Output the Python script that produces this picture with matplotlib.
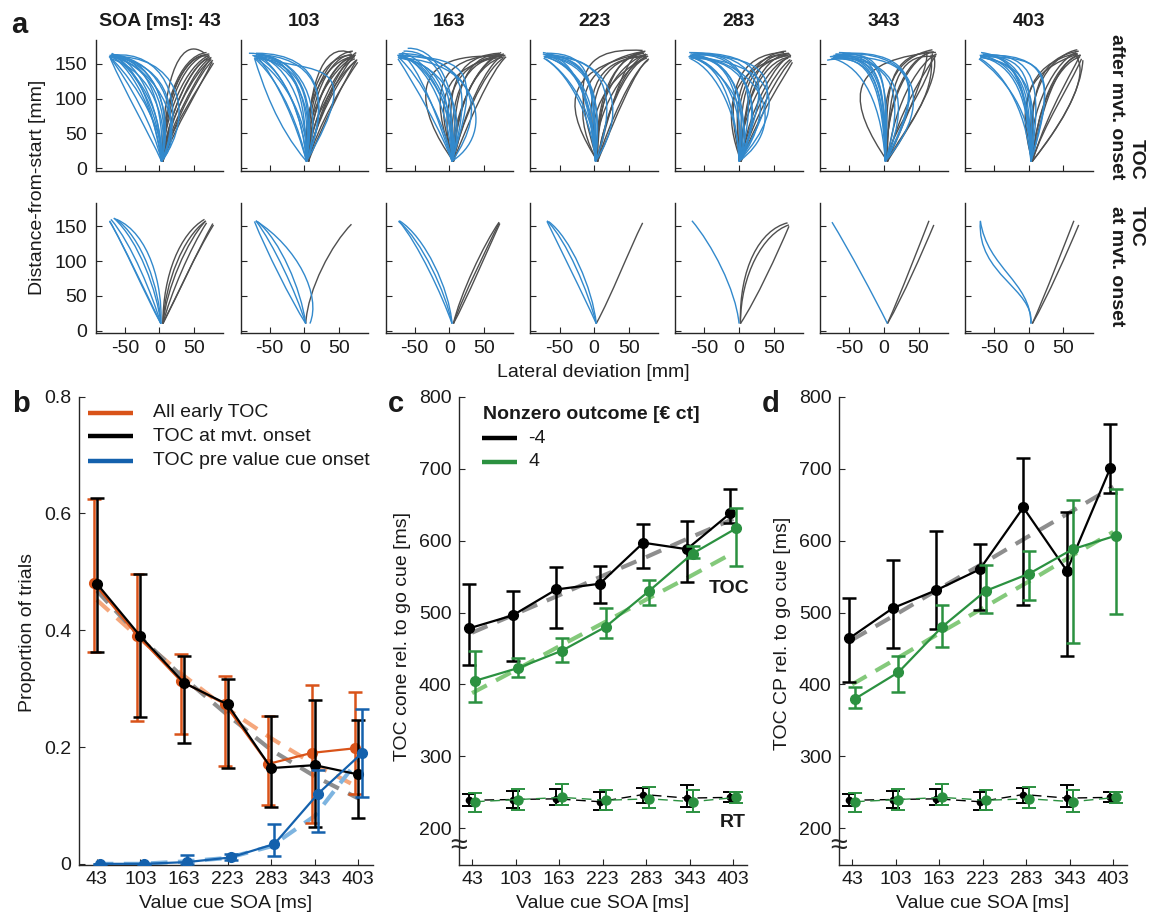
import matplotlib
matplotlib.use('Agg')
import matplotlib.pyplot as plt
from matplotlib.path import Path
from matplotlib.patches import PathPatch
import matplotlib.transforms as mtransforms

plt.rcParams['font.family'] = ['Liberation Sans', 'DejaVu Sans']
plt.rcParams['axes.linewidth'] = 1.0
plt.rcParams['axes.unicode_minus'] = False

# ---------------- data ----------------
SOA = [43, 103, 163, 223, 283, 343, 403]
SOA_LABELS = ['43', '103', '163', '223', '283', '343', '403']
PANEL_TITLES = ['SOA [ms]: 43', '103', '163', '223', '283', '343', '403']
TRAJ_START_Y = 10

# trajectories: (start_x, ctrl1_x, ctrl1_y, ctrl2_x, ctrl2_y, end_x, end_y) in mm
top_blue_43 = [(3, -8, 60, -45, 125, -72, 160), (3, -3, 70, -35, 140, -70, 162), (3, 2, 80, -25, 150, -68, 164),
               (3, 8, 85, -15, 155, -66, 163), (3, 18, 80, 0, 150, -67, 161), (3, 30, 70, 20, 150, -69, 160),
               (3, 55, 80, 25, 165, -70, 160), (3, 35, 60, 10, 160, -72, 162), (3, -15, 50, -50, 110, -71, 158),
               (3, 0, 90, -40, 145, -69, 165), (3, 15, 65, -10, 140, -70, 157), (3, 25, 95, -20, 160, -65, 163),
               (3, 5, 100, -45, 150, -72, 161), (3, -5, 55, -20, 140, -68, 163), (3, 45, 100, 0, 170, -66, 162),
               (3, 10, 45, -30, 120, -71, 159), (3, 40, 50, 5, 140, -70, 163), (3, 20, 110, -30, 155, -73, 160)]
top_gray_43 = [(5, 3, 110, 25, 195, 65, 165), (5, 5, 75, 40, 150, 72, 162), (5, 8, 60, 50, 140, 75, 156),
               (5, 12, 50, 58, 118, 78, 151), (5, 4, 95, 35, 165, 70, 163), (5, 15, 62, 55, 132, 74, 158),
               (5, 2, 85, 28, 162, 68, 166), (5, 10, 70, 45, 150, 73, 160), (5, 20, 55, 62, 122, 76, 153),
               (5, 6, 115, 45, 170, 71, 160), (5, 12, 82, 50, 155, 71, 157), (5, 22, 70, 60, 140, 77, 155),
               (5, 8, 100, 40, 160, 72, 164), (5, 16, 75, 52, 148, 75, 159)]
top_blue_103 = [(3, -40, 60, -60, 120, -72, 158), (3, -10, 60, -40, 130, -70, 162), (3, 0, 70, -30, 140, -68, 164),
                (3, 5, 80, -20, 150, -70, 163), (3, 15, 75, -5, 150, -72, 161), (3, 25, 70, 10, 155, -66, 162),
                (3, 90, 160, 20, 135, -70, 160), (3, 35, 90, 30, 165, -70, 165), (3, 10, 90, -10, 165, -80, 165),
                (3, -5, 50, -30, 120, -71, 157), (3, 20, 100, -10, 160, -69, 164), (3, 8, 60, -25, 130, -72, 159),
                (3, 45, 110, 10, 160, -67, 163), (3, -3, 85, -35, 150, -75, 162), (3, 2, 110, -15, 160, -73, 161),
                (3, 12, 100, 0, 150, -70, 158)]
top_gray_103 = [(6, 2, 110, 25, 185, 68, 165), (6, 6, 80, 40, 155, 72, 162), (6, 12, 60, 52, 135, 75, 155),
                (6, 0, 90, 30, 165, 70, 168), (6, 18, 60, 58, 125, 77, 152), (6, -10, 90, 35, 160, 73, 160),
                (6, 8, 95, 45, 160, 71, 158), (6, 15, 70, 55, 145, 74, 163), (6, 25, 60, 60, 130, 76, 156),
                (6, 5, 120, 50, 170, 70, 161), (6, 10, 75, 48, 150, 73, 157), (6, 20, 85, 55, 155, 75, 166),
                (6, -5, 70, 40, 145, 72, 160), (6, 3, 60, 45, 130, 74, 154), (6, 0, 120, 30, 160, 69, 163)]
top_blue_163 = [(4, -5, 60, -40, 130, -74, 160), (4, 0, 80, -30, 150, -72, 163), (4, 10, 70, -20, 145, -70, 161),
                (4, 20, 90, -10, 175, -60, 172), (4, 60, 90, 30, 150, -66, 158), (4, 80, 60, 20, 170, -73, 164),
                (4, -10, 50, -50, 120, -74, 157), (4, 15, 60, -15, 150, -68, 166), (4, 5, 100, -35, 160, -72, 160),
                (4, 30, 110, 30, 160, -75, 162), (4, -15, 70, -45, 150, -70, 165), (4, 25, 80, 0, 145, -71, 159),
                (4, 40, 130, 40, 160, -74, 161), (4, 10, 120, -20, 170, -66, 168), (4, 0, 110, -10, 150, -73, 158)]
top_gray_163 = [(6, -45, 80, -70, 170, 75, 160), (6, -10, 70, -35, 140, 78, 162), (6, 0, 80, -10, 160, 72, 165),
                (6, 8, 70, 30, 150, 80, 160), (6, 15, 60, 50, 140, 78, 158), (6, 5, 100, 20, 165, 74, 163),
                (6, -20, 90, 10, 160, 81, 162), (6, 20, 80, 55, 150, 76, 161), (6, 10, 90, 40, 155, 79, 164),
                (6, -5, 110, 30, 160, 72, 158), (6, 25, 60, 60, 140, 82, 160), (6, 0, 60, 35, 150, 75, 166),
                (6, -30, 110, -20, 160, 77, 163)]
top_blue_223 = [(2, 0, 90, -20, 150, -74, 164), (2, -3, 110, -30, 150, -72, 160), (2, 5, 120, -10, 160, -70, 162),
                (2, -5, 80, -40, 140, -73, 158), (2, 0, 130, -5, 165, -68, 165), (2, 10, 100, 0, 150, -71, 161),
                (2, 55, 90, 20, 160, -69, 163), (2, 40, 110, 10, 165, -72, 159), (2, -8, 120, -35, 160, -74, 166),
                (2, 3, 70, -30, 130, -70, 157), (2, 15, 130, -20, 155, -66, 160), (2, 0, 140, -10, 150, -62, 163),
                (2, 5, 100, -20, 145, -73, 161)]
top_gray_223 = [(5, -40, 80, -55, 140, 70, 165), (5, -25, 60, -40, 150, 74, 168), (5, -10, 70, -20, 160, 76, 160),
                (5, -30, 120, -30, 175, 70, 169), (5, 0, 80, 20, 160, 72, 165), (5, 10, 60, 45, 150, 76, 158),
                (5, 20, 60, 55, 140, 78, 155), (5, 5, 100, 30, 165, 73, 167), (5, -15, 100, 10, 160, 75, 162),
                (5, 15, 80, 50, 160, 77, 163), (5, 30, 70, 60, 145, 79, 157), (5, -5, 50, 25, 130, 74, 160),
                (5, 25, 100, 50, 170, 71, 166), (5, -20, 90, 35, 140, 78, 161), (5, 0, 110, 40, 150, 75, 164)]
top_blue_283 = [(0, 10, 80, -20, 150, -70, 160), (0, 20, 90, -10, 160, -68, 163), (0, 40, 80, 20, 160, -72, 158),
                (0, 60, 90, 30, 170, -66, 164), (0, 70, 60, 40, 150, -70, 162), (0, 30, 110, 10, 165, -60, 165),
                (0, 50, 130, 40, 165, -72, 166), (0, 0, 70, -30, 140, -70, 157), (0, 80, 100, 45, 150, -68, 160),
                (0, 25, 60, -10, 140, -72, 161), (0, -5, 100, -30, 150, -69, 159), (0, 45, 100, 0, 170, -64, 162),
                (0, 65, 120, 60, 160, -70, 164), (0, 15, 120, -20, 160, -73, 160), (0, 5, 100, -10, 160, -71, 162)]
top_gray_283 = [(3, -20, 70, -25, 140, 70, 162), (3, -10, 90, -5, 160, 72, 165), (3, 0, 80, 30, 155, 75, 160),
                (3, 10, 60, 50, 140, 74, 156), (3, -15, 100, 20, 165, 68, 168), (3, 5, 110, 40, 165, 73, 164),
                (3, 20, 70, 60, 140, 76, 155), (3, -5, 60, 40, 150, 71, 158), (3, 15, 90, 55, 155, 75, 162),
                (3, -25, 110, 0, 165, 65, 166), (3, 30, 80, 65, 130, 77, 152), (3, 8, 120, 30, 170, 70, 161),
                (3, 0, 110, 10, 150, 74, 163)]
top_blue_343 = [(2, 0, 130, -20, 160, -75, 157), (2, -3, 140, -30, 165, -82, 155), (2, 3, 120, -10, 160, -70, 164),
                (2, 0, 150, -30, 160, -72, 160), (2, 5, 140, 0, 170, -68, 162), (2, 60, 110, 50, 170, -60, 165),
                (2, 80, 100, 40, 175, -70, 163), (2, 30, 100, 20, 160, -74, 159), (2, 70, 140, 30, 160, -72, 161),
                (2, -5, 110, -40, 150, -76, 158), (2, 10, 130, -5, 165, -65, 166), (2, 50, 120, 0, 160, -73, 162),
                (2, 2, 145, -15, 170, -78, 160), (2, 0, 120, 0, 160, -70, 158)]
top_gray_343 = [(5, -50, 90, -60, 150, 60, 165), (5, 0, 120, 10, 165, 72, 167), (5, 20, 80, 60, 140, 75, 162),
                (5, 10, 60, 70, 120, 70, 165), (5, 40, 90, 70, 160, 60, 168), (5, 0, 100, 40, 170, 75, 166),
                (5, 30, 60, 75, 100, 68, 163), (5, 5, 140, 30, 165, 74, 160), (5, -10, 120, 20, 160, 70, 170),
                (5, 50, 80, 80, 130, 72, 162), (5, 15, 100, 55, 155, 76, 164), (5, 0, 80, 30, 150, 65, 166)]
top_blue_403 = [(3, 0, 100, -20, 150, -70, 160), (3, 5, 120, -30, 155, -69, 162), (3, -5, 90, -40, 140, -71, 158),
                (3, 10, 110, -10, 160, -67, 164), (3, 0, 130, -25, 165, -70, 161), (3, 15, 100, 0, 150, -68, 159),
                (3, 20, 120, 10, 165, -66, 163), (3, 40, 140, 30, 160, -70, 160), (3, 5, 80, -35, 130, -72, 157),
                (3, 30, 100, 45, 165, -60, 162), (3, -3, 110, -15, 160, -69, 166), (3, 8, 140, -5, 160, -71, 162),
                (3, 2, 110, -5, 150, -70, 159)]
top_gray_403 = [(5, -15, 90, -5, 150, 70, 165), (5, 10, 80, 40, 150, 74, 160), (5, 20, 60, 60, 120, 76, 157),
                (5, 60, 80, 90, 140, 65, 165), (5, 0, 120, 20, 160, 72, 168), (5, 30, 90, 70, 150, 74, 163),
                (5, -5, 60, 30, 150, 68, 166), (5, 15, 110, 50, 160, 75, 162), (5, 45, 60, 75, 110, 78, 155),
                (5, -10, 120, 40, 165, 70, 170), (5, 25, 130, 60, 165, 73, 161), (5, -20, 100, 0, 140, 71, 164)]

bot_blue_43 = [(2, -20, 50, -50, 120, -72, 158), (2, -10, 50, -40, 125, -70, 160), (2, -3, 55, -30, 130, -66, 162),
               (2, 0, 60, -25, 135, -64, 161), (2, 5, 65, -15, 140, -62, 160), (2, -15, 45, -55, 130, -72, 157)]
bot_gray_43 = [(5, 5, 80, 30, 140, 65, 160), (5, 10, 60, 40, 130, 67, 158), (5, 15, 50, 45, 120, 68, 155),
               (5, 25, 50, 52, 110, 78, 152), (5, 28, 55, 55, 115, 77, 154), (5, 8, 70, 35, 135, 66, 157)]
bot_blue_103 = [(2, -20, 45, -55, 115, -72, 157), (2, -12, 55, -45, 125, -70, 158), (2, -5, 60, -35, 130, -68, 157),
                (8, 25, 50, -10, 120, -70, 158)]
bot_gray_103 = [(2, 5, 60, 40, 125, 68, 153)]
bot_blue_163 = [(4, -10, 50, -45, 125, -73, 158), (4, -5, 55, -40, 130, -73, 157), (4, 0, 60, -35, 135, -72, 158)]
bot_gray_163 = [(6, 20, 50, 55, 120, 72, 155), (6, 15, 50, 50, 125, 72, 156), (6, 25, 45, 55, 115, 73, 154)]
bot_blue_223 = [(3, -15, 50, -50, 120, -68, 157), (3, -8, 55, -40, 130, -68, 158), (3, -2, 60, -35, 135, -66, 157)]
bot_gray_223 = [(3, 25, 50, 50, 115, 70, 155)]
bot_blue_283 = [(0, -5, 60, -40, 125, -68, 158)]
bot_gray_283 = [(2, 0, 90, 30, 145, 70, 155), (2, 2, 80, 35, 140, 72, 152), (2, 25, 45, 55, 110, 72, 150)]
bot_blue_343 = [(5, -15, 50, -50, 115, -75, 156)]
bot_gray_343 = [(5, 25, 55, 50, 120, 65, 158), (5, 28, 50, 55, 112, 72, 152)]
bot_blue_403 = [(3, 3, 70, -60, 90, -70, 158), (3, 8, 60, -75, 80, -70, 157)]
bot_gray_403 = [(5, 25, 55, 50, 120, 65, 158), (5, 28, 50, 55, 112, 72, 152)]

TOP_BLUE = [top_blue_43, top_blue_103, top_blue_163, top_blue_223, top_blue_283, top_blue_343, top_blue_403]
TOP_GRAY = [top_gray_43, top_gray_103, top_gray_163, top_gray_223, top_gray_283, top_gray_343, top_gray_403]
BOT_BLUE = [bot_blue_43, bot_blue_103, bot_blue_163, bot_blue_223, bot_blue_283, bot_blue_343, bot_blue_403]
BOT_GRAY = [bot_gray_43, bot_gray_103, bot_gray_163, bot_gray_223, bot_gray_283, bot_gray_343, bot_gray_403]

# panel b: proportion of trials
b_all = [0.481, 0.391, 0.313, 0.274, 0.171, 0.190, 0.198]
b_all_hi = [0.625, 0.496, 0.360, 0.322, 0.254, 0.306, 0.294]
b_all_lo = [0.363, 0.244, 0.223, 0.167, 0.101, 0.070, 0.120]
b_mvt = [0.480, 0.390, 0.310, 0.273, 0.164, 0.169, 0.153]
b_mvt_hi = [0.626, 0.497, 0.356, 0.317, 0.253, 0.281, 0.247]
b_mvt_lo = [0.363, 0.251, 0.207, 0.164, 0.098, 0.063, 0.078]
b_pre = [0.0, 0.0, 0.003, 0.011, 0.034, 0.120, 0.189]
b_pre_hi = [0.0, 0.0, 0.015, 0.017, 0.069, 0.160, 0.265]
b_pre_lo = [0.0, 0.0, 0.0, 0.006, 0.014, 0.055, 0.115]
b_fit_all = [0.452, 0.385, 0.322, 0.265, 0.215, 0.170, 0.131]
b_fit_mvt = [0.468, 0.388, 0.318, 0.255, 0.195, 0.150, 0.112]
b_fit_pre = [0.0, 0.0, 0.004, 0.010, 0.030, 0.082, 0.178]

# panel c: TOC cone
c_black = [478, 496, 532, 540, 597, 588, 638]
c_black_hi = [539, 530, 563, 565, 623, 627, 672]
c_black_lo = [427, 433, 479, 513, 562, 542, 625]
c_green = [405, 423, 447, 480, 530, 582, 617]
c_green_hi = [446, 437, 465, 506, 545, 593, 645]
c_green_lo = [376, 411, 431, 465, 510, 576, 565]
c_fit_black = [472, 498, 524, 551, 577, 604, 630]
c_fit_green = [388, 420, 453, 485, 518, 550, 583]

# panel d: TOC CP
d_black = [464, 506, 531, 560, 646, 558, 701]
d_black_hi = [520, 573, 613, 595, 715, 640, 762]
d_black_lo = [404, 450, 477, 503, 510, 440, 666]
d_green = [380, 417, 480, 530, 554, 588, 607]
d_green_hi = [397, 440, 510, 566, 586, 656, 671]
d_green_lo = [367, 390, 452, 499, 517, 457, 498]
d_fit_black = [462, 497, 533, 568, 604, 639, 675]
d_fit_green = [400, 435, 471, 506, 541, 577, 612]

# reaction times (panels c and d)
rt_black = [239, 240, 241, 237, 247, 242, 243]
rt_black_hi = [248, 252, 255, 251, 256, 260, 250]
rt_black_lo = [231, 228, 232, 226, 235, 230, 236]
rt_green = [237, 240, 243, 239, 241, 237, 243]
rt_green_hi = [249, 255, 262, 253, 258, 253, 250]
rt_green_lo = [223, 226, 233, 226, 228, 223, 235]

# ---------------- style ----------------
W, H = 1149, 916
TXT = '#1a1a1a'
AXC = '#262626'
TRAJ_BLUE = '#3289cc'
TRAJ_GRAY = '#4f4f4f'
ORANGE = '#d95319'
ORANGE_L = '#f5a77c'
BLACK = '#000000'
GRAY_L = '#8e8e8e'
BLUE = '#1461ad'
BLUE_L = '#7db4e0'
GREEN = '#2b9140'
GREEN_L = '#84c97b'
FS = 14

fig = plt.figure(figsize=(W / 100, H / 100), dpi=100)


def px_axes(left, top, right, bottom):
    return fig.add_axes([left / W, 1 - bottom / H, (right - left) / W, (bottom - top) / H])


def style(ax, xpad=5, ypad=6):
    for s in ['top', 'right']:
        ax.spines[s].set_visible(False)
    for s in ['left', 'bottom']:
        ax.spines[s].set_color(AXC)
        ax.spines[s].set_linewidth(1.0)
    ax.tick_params(direction='in', length=4, width=0.8, colors=AXC, labelcolor=TXT, labelsize=FS)
    ax.tick_params(axis='x', pad=xpad)
    ax.tick_params(axis='y', pad=ypad)


def draw_traj(ax, trajs, color):
    codes = [Path.MOVETO, Path.CURVE4, Path.CURVE4, Path.CURVE4]
    for sx, c1x, c1y, c2x, c2y, ex, ey in trajs:
        verts = [(sx, TRAJ_START_Y), (c1x, c1y), (c2x, c2y), (ex, ey)]
        ax.add_patch(PathPatch(Path(verts, codes), fill=False, edgecolor=color, lw=1.0))


# ---------------- panel a ----------------
col_left = [95.7 + 144.9 * i for i in range(7)]
col_w = 127.5
rows = [(40, 171), (202.7, 333.3)]
for r, (top, bot) in enumerate(rows):
    for i in range(7):
        ax = px_axes(col_left[i], top, col_left[i] + col_w, bot)
        style(ax, xpad=5, ypad=6)
        draw_traj(ax, (TOP_GRAY if r == 0 else BOT_GRAY)[i], TRAJ_GRAY)
        draw_traj(ax, (TOP_BLUE if r == 0 else BOT_BLUE)[i], TRAJ_BLUE)
        ax.set_xlim(-92, 92)
        ax.set_ylim(-4, 184)
        ax.set_xticks([-50, 0, 50])
        ax.set_yticks([0, 50, 100, 150])
        if r == 0:
            ax.set_xticklabels([])
            ax.set_title(PANEL_TITLES[i], fontsize=FS, fontweight='bold', color=TXT, pad=10)
        else:
            ax.set_xticklabels(['-50', '0', '50'])
        if i > 0:
            ax.set_yticklabels([])

fig.text(11 / W, 1 - 33 / H, 'a', fontsize=21, fontweight='bold', color=TXT, ha='left', va='baseline')
fig.text(38 / W, 1 - 187 / H, 'Distance-from-start [mm]', rotation=90, fontsize=FS, color=TXT,
         ha='center', va='center')
fig.text(593.5 / W, 1 - 373 / H, 'Lateral deviation [mm]', fontsize=FS, color=TXT, ha='center', va='center')
fig.text(1126 / W, 1 - 107 / H, 'TOC\nafter mvt. onset', rotation=270, fontsize=FS, fontweight='bold',
         color=TXT, ha='center', va='center', multialignment='right', linespacing=1.2)
fig.text(1126 / W, 1 - 266.5 / H, 'TOC\nat mvt. onset', rotation=270, fontsize=FS, fontweight='bold',
         color=TXT, ha='center', va='center', multialignment='left', linespacing=1.2)


def eb(ax, x, y, lo, hi, color, ms=7, lw=1.6, ls='-', z=3, elw=1.8):
    yerr = [[v - l for v, l in zip(y, lo)], [h - v for v, h in zip(y, hi)]]
    ax.errorbar(x, y, yerr=yerr, fmt='o', color=color, ms=ms, capsize=5, elinewidth=elw,
                capthick=elw, zorder=z)
    ax.plot(x, y, ls=ls, color=color, lw=lw, zorder=z)


def fitline(ax, x, y, color, z=2):
    ax.plot(x, y, color=color, lw=3.0, dashes=(4, 2.5), zorder=z, solid_capstyle='butt',
            dash_capstyle='butt')


# ---------------- panel b ----------------
axb = px_axes(79, 396.7, 373.3, 865)
style(axb, xpad=4, ypad=5.5)
fitline(axb, SOA, b_fit_all, ORANGE_L)
fitline(axb, SOA, b_fit_mvt, GRAY_L)
fitline(axb, SOA, b_fit_pre, BLUE_L)
eb(axb, [s - 4 for s in SOA], b_all, b_all_lo, b_all_hi, ORANGE, z=3)
eb(axb, SOA, b_mvt, b_mvt_lo, b_mvt_hi, BLACK, z=4)
eb(axb, [s + 4.5 for s in SOA], b_pre, b_pre_lo, b_pre_hi, BLUE, z=5)
axb.set_xlim(18.6, 423.6)
axb.set_ylim(-0.002, 0.8)
axb.set_xticks(SOA)
axb.set_xticklabels(SOA_LABELS)
axb.set_yticks([0, 0.2, 0.4, 0.6, 0.8])
axb.set_yticklabels(['0', '0.2', '0.4', '0.6', '0.8'])
for lab, col, yy in [('All early TOC', ORANGE, 0.966), ('TOC at mvt. onset', BLACK, 0.916),
                     ('TOC pre value cue onset', BLUE, 0.863)]:
    axb.plot([0.031, 0.183], [yy, yy], transform=axb.transAxes, color=col, lw=3.2,
             solid_capstyle='butt', clip_on=False)
    axb.text(0.252, yy, lab, transform=axb.transAxes, fontsize=FS, color=TXT, ha='left', va='center')

# ---------------- panels c, d ----------------


def time_panel(left, right, blk, blk_lo, blk_hi, grn, grn_lo, grn_hi, fb, fg):
    ax = px_axes(left, 396.7, right, 865)
    style(ax, xpad=4, ypad=5.5)
    fitline(ax, SOA, fb, GRAY_L)
    fitline(ax, SOA, fg, GREEN_L)
    eb(ax, [s - 4 for s in SOA], blk, blk_lo, blk_hi, BLACK, z=4)
    eb(ax, [s + 4 for s in SOA], grn, grn_lo, grn_hi, GREEN, z=5)
    eb(ax, [s - 4 for s in SOA], rt_black, rt_black_lo, rt_black_hi, BLACK, ms=4.5, lw=1.0,
       ls=(0, (7, 4)), z=4, elw=1.4)
    eb(ax, [s + 4 for s in SOA], rt_green, rt_green_lo, rt_green_hi, GREEN, ms=6.5, lw=1.0,
       ls=(0, (7, 4)), z=5, elw=1.4)
    ax.set_xlim(25, 421.5)
    ax.set_ylim(149, 800)
    ax.set_xticks(SOA)
    ax.set_xticklabels(SOA_LABELS)
    ax.set_yticks([200, 300, 400, 500, 600, 700, 800])
    trans = mtransforms.blended_transform_factory(ax.transAxes, ax.transData)
    ax.text(0, 176, '≈', transform=trans, fontsize=22, color=AXC, ha='center', va='center',
            zorder=10, clip_on=False)
    return ax


axc = time_panel(459, 746.7, c_black, c_black_lo, c_black_hi, c_green, c_green_lo, c_green_hi,
                 c_fit_black, c_fit_green)
axd = time_panel(839, 1126.7, d_black, d_black_lo, d_black_hi, d_green, d_green_lo, d_green_hi,
                 d_fit_black, d_fit_green)

axc.text(0.0845, 0.961, 'Nonzero outcome [€ ct]', transform=axc.transAxes, fontsize=FS,
         fontweight='bold', color=TXT, ha='left', va='center')
for lab, col, yy in [('-4', BLACK, 0.911), ('4', GREEN, 0.861)]:
    axc.plot([0.079, 0.203], [yy, yy], transform=axc.transAxes, color=col, lw=3.2,
             solid_capstyle='butt', clip_on=False)
    axc.text(0.241, yy, lab, transform=axc.transAxes, fontsize=FS, color=TXT, ha='left', va='center')
axc.text(1.01, 0.591, 'TOC', transform=axc.transAxes, fontsize=FS, fontweight='bold', color=TXT,
         ha='right', va='center')
axc.text(0.995, 0.09, 'RT', transform=axc.transAxes, fontsize=FS, fontweight='bold', color=TXT,
         ha='right', va='center')

# labels
fig.text(11.7 / W, 1 - 411.7 / H, 'b', fontsize=21, fontweight='bold', color=TXT, ha='left', va='baseline')
fig.text(388 / W, 1 - 411.7 / H, 'c', fontsize=21, fontweight='bold', color=TXT, ha='left', va='baseline')
fig.text(761.7 / W, 1 - 411.7 / H, 'd', fontsize=21, fontweight='bold', color=TXT, ha='left', va='baseline')
fig.text(27.5 / W, 1 - 632 / H, 'Proportion of trials', rotation=90, fontsize=FS, color=TXT,
         ha='center', va='center')
fig.text(402.5 / W, 1 - 636.5 / H, 'TOC cone rel. to go cue [ms]', rotation=90, fontsize=FS, color=TXT,
         ha='center', va='center')
fig.text(782.5 / W, 1 - 633.5 / H, 'TOC CP rel. to go cue [ms]', rotation=90, fontsize=FS, color=TXT,
         ha='center', va='center')
for cx in [226, 603, 983]:
    fig.text(cx / W, 1 - 903 / H, 'Value cue SOA [ms]', fontsize=FS, color=TXT, ha='center', va='center')

fig.savefig('out.png', dpi=100)
